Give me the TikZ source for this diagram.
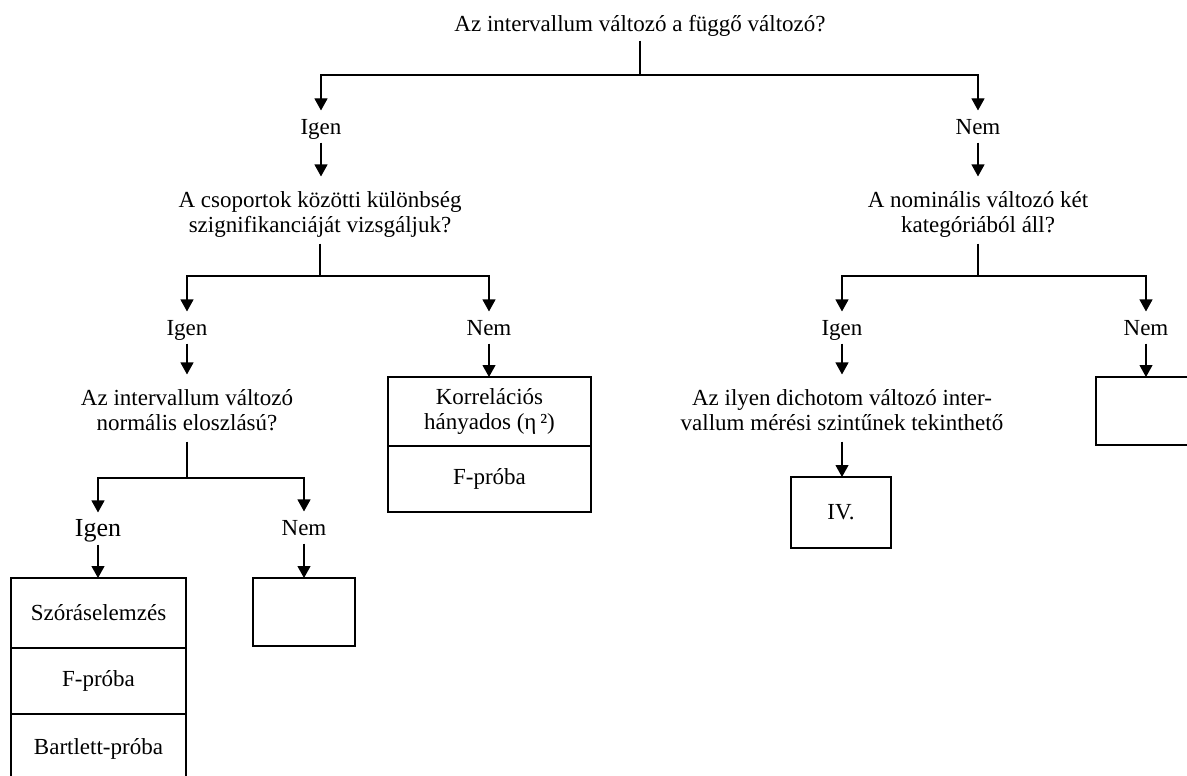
\documentclass[tikz,border=0pt]{standalone}
\usepackage{fontspec}
\setmainfont{Liberation Serif}
\usetikzlibrary{arrows.meta}
\newcommand\fsz{\fontsize{23}{25}\selectfont}
\newcommand\fszbig{\fontsize{26}{28}\selectfont}
% struts that fix the height of a first line and the depth of a last line
\newcommand\topln{\rule{0pt}{24pt}}
\newcommand\botln{\rule[-5pt]{0pt}{5pt}}

\begin{document}
\begin{tikzpicture}[x=1pt,y=-1pt,
  line width=1.1pt,
  every node/.style={font=\fsz},
  lbl/.style={anchor=base, inner xsep=2pt, inner ysep=3pt, text height=20pt, text depth=5pt},
  % two-line questions: base is the baseline of the last line
  ques/.style={anchor=base, align=center, inner xsep=2pt, inner ysep=6pt},
  cell/.style={draw, anchor=north west, align=center, inner sep=0pt, outer sep=0pt},
  arr/.style={-{Triangle[width=13pt,length=12pt]}},
  ]
\useasboundingbox (0,0) rectangle (1187,776);
\clip (0,0) rectangle (1187,776);

% root question
\node[lbl] (title) at (640,32) {Az intervallum változó a függő változó?};
\coordinate (f0) at (640,75);
\node[lbl] (tIgen) at (321,134) {Igen};
\node[lbl] (tNem) at (978,134) {Nem};
\draw (title.south) -- (f0);
\draw[arr] (f0) -| (tIgen.north);
\draw[arr] (f0) -| (tNem.north);

% second level questions
\node[ques] (qA) at (320,232) {\topln A csoportok közötti különbség\\szignifikanciáját vizsgáljuk?\botln};
\node[ques] (qB) at (978,232) {\topln A nominális változó két\\kategóriából áll?\botln};
\draw[arr] (tIgen.south) -- (tIgen.south |- qA.north);
\draw[arr] (tNem.south) -- (tNem.south |- qB.north);

% left branch
\coordinate (fA) at (320,276);
\node[lbl] (aIgen) at (187,335) {Igen};
\node[lbl] (aNem) at (489,335) {Nem};
\draw (qA.south) -- (fA);
\draw[arr] (fA) -| (aIgen.north);
\draw[arr] (fA) -| (aNem.north);

\node[ques] (qC) at (187,430) {\topln Az intervallum változó\\normális eloszlású?\botln};
\draw[arr] (aIgen.south) -- (aIgen.south |- qC.north);

\node[cell, minimum width=203pt, minimum height=69pt] (kh) at (388,377) {Korrelációs\\hányados (η\,²)};
\node[cell, minimum width=203pt, minimum height=66pt] (kf) at (kh.south west) {F-próba};
\draw[arr] (aNem.south) -- (aNem.south |- kh.north);

\coordinate (fC) at (187,478);
\node[lbl, font=\fszbig] (cIgen) at (98,536) {Igen};
\node[lbl] (cNem) at (304,535) {Nem};
\draw (qC.south) -- (fC);
\draw[arr] (fC) -| (cIgen.north);
\draw[arr] (fC) -| (cNem.north);

\node[cell, minimum width=175pt, minimum height=70pt] (sz) at (11,578) {Szóráselemzés};
\node[cell, minimum width=175pt, minimum height=66pt] (fp) at (sz.south west) {F-próba};
\node[cell, minimum width=175pt, minimum height=70pt] (bp) at (fp.south west) {Bartlett-próba};
\node[cell, minimum width=102pt, minimum height=68pt] (nbox) at (253,578) {};
\draw[arr] (cIgen.south) -- (cIgen.south |- sz.north);
\draw[arr] (cNem.south) -- (cNem.south |- nbox.north);

% right branch
\coordinate (fB) at (978,276);
\node[lbl] (bIgen) at (842,335) {Igen};
\node[lbl] (bNem) at (1146,335) {Nem};
\draw (qB.south) -- (fB);
\draw[arr] (fB) -| (bIgen.north);
\draw[arr] (fB) -| (bNem.north);

\node[ques] (qD) at (842,430) {\topln Az ilyen dichotom változó inter-\\vallum mérési szintűnek tekinthető\botln};
\draw[arr] (bIgen.south) -- (bIgen.south |- qD.north);
\node[cell, minimum width=100pt, minimum height=71pt] (iv) at (791,477) {IV.};
\draw[arr] (qD.south) -- (qD.south |- iv.north);

\node[cell, minimum width=110pt, minimum height=68pt] (rbox) at (1096,377) {};
\draw[arr] (bNem.south) -- (bNem.south |- rbox.north);
\end{tikzpicture}
\end{document}
